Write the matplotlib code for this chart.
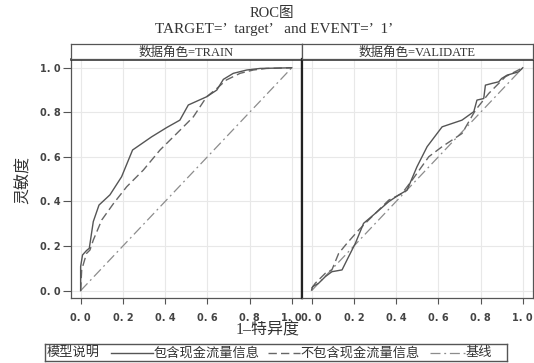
import matplotlib
matplotlib.use("Agg")
import matplotlib.pyplot as plt

plt.rcParams['font.family'] = ['Liberation Serif', 'Noto Sans CJK SC', 'DejaVu Sans']

# ---- data ----
train_solid_x = [0.0, 0.0, 0.009, 0.028, 0.041, 0.06, 0.087, 0.139, 0.194, 0.246, 0.336, 0.408, 0.47, 0.51, 0.597, 0.645, 0.676, 0.723, 0.787, 0.85, 1.0]
train_solid_y = [0.0, 0.108, 0.16, 0.18, 0.19, 0.31, 0.384, 0.43, 0.511, 0.631, 0.69, 0.732, 0.765, 0.833, 0.87, 0.9, 0.948, 0.975, 0.99, 0.997, 1.0]
train_dash_x = [0.0, 0.005, 0.028, 0.044, 0.06, 0.1, 0.155, 0.218, 0.297, 0.376, 0.455, 0.534, 0.597, 0.645, 0.69, 0.755, 0.818, 0.88, 1.0]
train_dash_y = [0.0, 0.093, 0.167, 0.182, 0.227, 0.317, 0.39, 0.466, 0.541, 0.631, 0.705, 0.78, 0.87, 0.907, 0.945, 0.975, 0.99, 0.997, 1.0]
val_solid_x = [0.0, 0.005, 0.033, 0.065, 0.096, 0.144, 0.175, 0.207, 0.246, 0.302, 0.365, 0.412, 0.452, 0.499, 0.547, 0.618, 0.712, 0.768, 0.783, 0.815, 0.823, 0.855, 0.886, 0.9, 0.926, 0.981, 1.0]
val_solid_y = [0.003, 0.018, 0.033, 0.063, 0.085, 0.093, 0.152, 0.212, 0.302, 0.347, 0.399, 0.429, 0.451, 0.556, 0.646, 0.735, 0.765, 0.803, 0.855, 0.862, 0.922, 0.93, 0.937, 0.952, 0.967, 0.982, 1.0]
val_dash_x = [0.0, 0.017, 0.065, 0.096, 0.128, 0.167, 0.223, 0.27, 0.318, 0.365, 0.428, 0.476, 0.555, 0.618, 0.712, 0.776, 0.839, 0.918, 1.0]
val_dash_y = [0.01, 0.033, 0.078, 0.093, 0.167, 0.212, 0.272, 0.317, 0.362, 0.406, 0.436, 0.496, 0.601, 0.646, 0.705, 0.81, 0.885, 0.96, 1.0]
base_x = [0.0, 1.0]
base_y = [0.0, 1.0]

ticks = [0.0, 0.2, 0.4, 0.6, 0.8, 1.0]
tick_labels = ['0. 0', '0. 2', '0. 4', '0. 6', '0. 8', '1. 0']
panels = ['数据角色=TRAIN', '数据角色=VALIDATE']
legend_title = '模型说明'
series_names = ['包含现金流量信息', '不包含现金流量信息', '基线']

W, H = 534, 363
fig = plt.figure(figsize=(W / 100, H / 100), dpi=100)

def fx(px):
    return px / W

def fy(py):
    return 1 - py / H

ax_left = 70.7
ax_w = 231.0
ax_top = 59.3
ax_bot = 298.0
strip_top = 44.0

line_col = '#555555'
dash_col = '#666666'
base_col = '#8c8c8c'
grid_col = '#e8e8e8'
text_col = '#333333'
tick_font = dict(fontfamily=['DejaVu Sans'], fontsize=7, color='#444444', fontweight='bold')

data = [
    (train_solid_x, train_solid_y, train_dash_x, train_dash_y),
    (val_solid_x, val_solid_y, val_dash_x, val_dash_y),
]

for i in range(2):
    x0 = ax_left + i * ax_w
    ax = fig.add_axes([fx(x0), fy(ax_bot), ax_w / W, (ax_bot - ax_top) / H])
    sx, sy, dx, dy = data[i]
    ax.plot(base_x, base_y, color=base_col, lw=0.9, linestyle=(0, (8, 3, 1.5, 3)))
    ax.plot(dx, dy, color=dash_col, lw=1.0, linestyle=(0, (6, 3)))
    ax.plot(sx, sy, color=line_col, lw=1.0)
    ax.set_xlim(-0.047, 1.047)
    ax.set_ylim(-0.033, 1.038)
    ax.set_xticks(ticks)
    ax.set_xticklabels(tick_labels, **tick_font)
    ax.set_yticks(ticks)
    if i == 0:
        ax.set_yticklabels(tick_labels, **tick_font)
        ax.tick_params(axis='y', direction='out', length=6, width=0.8, color='#555555', pad=1.5)
    else:
        ax.tick_params(axis='y', left=False, labelleft=False)
    ax.tick_params(axis='x', direction='out', length=4.5, width=0.8, color='#555555', pad=6.5)
    ax.grid(True, color=grid_col, lw=0.8)
    ax.set_axisbelow(True)
    for s in ax.spines.values():
        s.set_color('#555555')
        s.set_linewidth(0.9)
    ax.spines['top'].set_color('#222222')
    ax.spines['top'].set_linewidth(1.8)
    if i == 0:
        ax.spines['right'].set_color('#222222')
        ax.spines['right'].set_linewidth(1.6)
    else:
        ax.spines['left'].set_color('#222222')
        ax.spines['left'].set_linewidth(1.6)

    # strip
    sax = fig.add_axes([fx(x0), fy(ax_top), ax_w / W, (ax_top - strip_top) / H])
    sax.set_xticks([])
    sax.set_yticks([])
    for s in sax.spines.values():
        s.set_color('#555555')
        s.set_linewidth(0.9)
    sax.text(0.5, 0.45, panels[i], ha='center', va='center', fontsize=9, color=text_col,
             transform=sax.transAxes)

fig.text(fx(272), fy(14), 'ROC图', ha='center', va='center', fontsize=10.5, color=text_col)
fig.text(fx(274), fy(29), "TARGET=’  target’   and EVENT=’  1’", ha='center', va='center',
         fontsize=11, color=text_col)
fig.text(fx(24), fy(180), '灵敏度', ha='center', va='center', rotation=90, fontsize=11.5,
         color=text_col)
fig.text(fx(268), fy(330), '1–特异度', ha='center', va='center', fontsize=11.5, color=text_col)

# legend box
lx0, lx1, ly0, ly1 = 45, 507, 344, 361
lax = fig.add_axes([fx(lx0), fy(ly1), (lx1 - lx0) / W, (ly1 - ly0) / H])
lax.set_xlim(lx0, lx1)
lax.set_ylim(ly1, ly0)
lax.set_xticks([])
lax.set_yticks([])
for s in lax.spines.values():
    s.set_color('#555555')
    s.set_linewidth(1.0)
ym = (ly0 + ly1) / 2 + 0.5
fs = 9.5
lax.text(47, ym, legend_title, ha='left', va='center', fontsize=fs, color=text_col)
lax.plot([111, 153], [ym, ym], color=line_col, lw=1.0)
lax.text(154, ym, series_names[0], ha='left', va='center', fontsize=fs, color=text_col)
lax.plot([268, 300], [ym, ym], color=dash_col, lw=1.0, linestyle=(0, (6, 3)))
lax.text(300, ym, series_names[1], ha='left', va='center', fontsize=fs, color=text_col)
lax.plot([430, 465], [ym, ym], color=base_col, lw=0.9, linestyle=(0, (8, 3, 1.5, 3)))
lax.text(465, ym, series_names[2], ha='left', va='center', fontsize=fs, color=text_col)

fig.savefig('out.png', dpi=100)
